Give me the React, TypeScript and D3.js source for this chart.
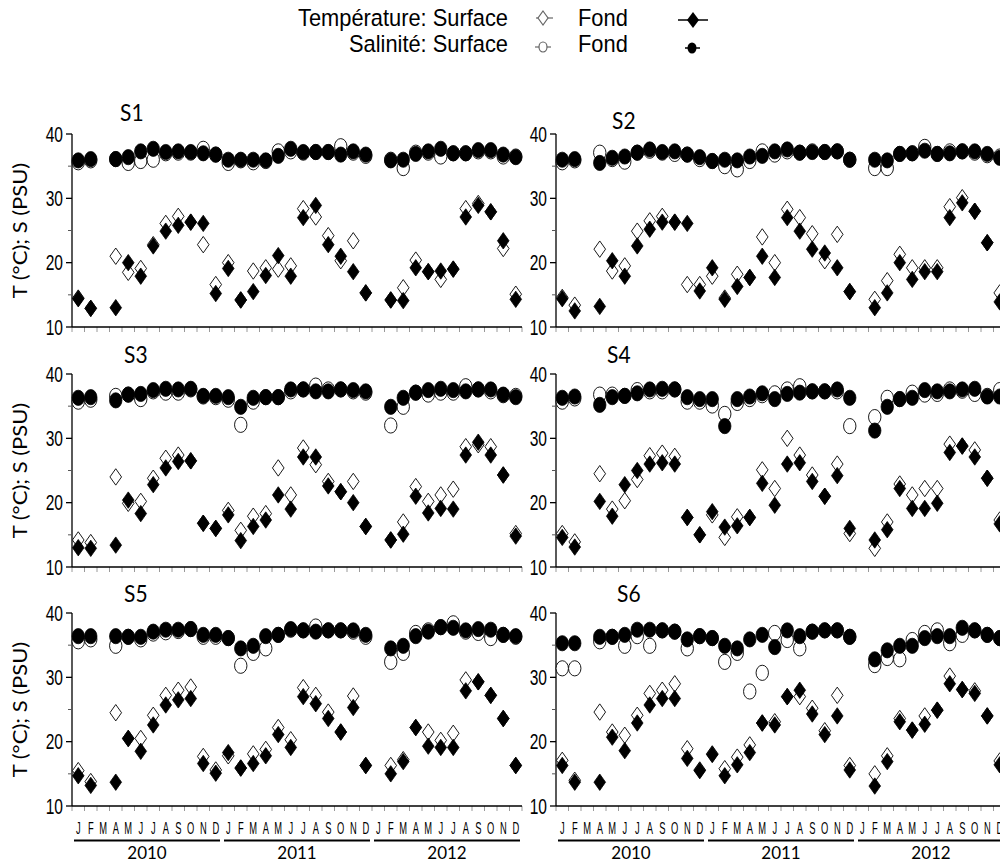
import React from 'react';
import * as d3 from 'd3';

const MONTHS = ['J', 'F', 'M', 'A', 'M', 'J', 'J', 'A', 'S', 'O', 'N', 'D'];
const YEARS = ['2010', '2011', '2012'];
const Y_TICKS = [10, 20, 30, 40];
const Y_MINOR = [15, 25, 35];
const STATIONS = ['S1', 'S2', 'S3', 'S4', 'S5', 'S6'];

const S1_TS = [14.5, 12.9, null, 21.0, 18.5, 19.1, 22.8, 26.1, 27.2, 26.3, 22.8, 16.6, 20.0, 14.2, 18.7, 19.2, 19.0, 19.5, 28.4, 27.1, 24.2, 20.3, 23.4, 15.3, null, 14.2, 16.1, 20.4, 18.6, 17.4, 19.0, 28.4, 29.2, 27.9, 22.2, 15.1];
const S1_TB = [14.4, 12.9, null, 13.0, 20.0, 17.9, 22.6, 24.9, 25.8, 26.3, 26.1, 15.2, 19.1, 14.2, 15.5, 18.0, 21.1, 17.9, 27.0, 28.9, 22.8, 21.0, 18.6, 15.3, null, 14.2, 14.1, 19.2, 18.6, 18.7, 19.0, 27.1, 28.9, 27.9, 23.4, 14.3];
const S1_SS = [35.6, 35.9, null, 36.1, 35.5, 35.8, 36.0, 37.0, 37.1, 37.1, 37.7, 36.8, 35.5, 35.9, 35.6, 35.8, 37.3, 37.3, 37.1, 37.2, 37.2, 38.1, 37.1, 36.6, null, 36.0, 34.7, 37.1, 37.1, 36.5, 37.0, 37.0, 37.3, 37.3, 36.5, 36.5];
const S1_SB = [35.9, 36.1, null, 36.1, 36.4, 37.3, 37.7, 37.2, 37.3, 37.2, 37.0, 36.8, 36.0, 36.0, 36.0, 35.9, 36.6, 37.7, 37.2, 37.2, 37.2, 36.8, 37.3, 36.8, null, 35.9, 36.0, 36.9, 37.3, 37.7, 37.0, 37.0, 37.5, 37.5, 36.8, 36.4];

const S2_TS = [14.6, 13.4, null, 22.1, 18.7, 19.5, 24.9, 26.5, 27.2, 26.3, 16.6, 16.6, 17.9, 14.5, 18.2, 17.7, 24.0, 20.0, 28.3, 27.0, 24.5, 20.3, 24.4, 15.5, null, 14.3, 17.2, 21.3, 19.2, 19.2, 19.2, 28.7, 30.1, 28.0, 23.1, 15.3];
const S2_TB = [14.4, 12.5, null, 13.2, 20.3, 17.9, 22.6, 25.2, 26.3, 26.3, 26.1, 15.6, 19.2, 14.3, 16.3, 17.7, 21.0, 17.7, 27.0, 24.9, 22.1, 21.5, 19.2, 15.5, null, 13.0, 15.3, 20.0, 17.4, 18.6, 18.6, 27.0, 29.3, 28.0, 23.1, 13.9];
const S2_SS = [35.6, 35.9, null, 37.1, 36.1, 35.7, 37.1, 37.4, 37.1, 36.9, 36.8, 36.1, 35.8, 35.0, 34.5, 35.8, 37.3, 36.8, 37.3, 37.1, 37.3, 37.2, 37.3, 36.0, null, 34.7, 34.7, 36.9, 37.0, 38.0, 36.9, 37.3, 37.3, 37.1, 36.7, 36.5];
const S2_SB = [36.0, 36.1, null, 35.5, 36.3, 36.5, 37.1, 37.6, 37.2, 37.3, 36.8, 36.4, 35.8, 36.0, 35.9, 36.5, 36.6, 37.3, 37.6, 37.1, 37.2, 37.2, 37.3, 36.0, null, 36.0, 35.9, 36.9, 37.0, 37.4, 36.9, 37.0, 37.3, 37.3, 36.9, 36.3];

const S3_TS = [14.2, 13.8, null, 24.0, 19.9, 20.2, 23.8, 26.9, 27.4, 26.5, 16.8, 16.0, 18.8, 15.7, 17.9, 18.3, 25.4, 21.2, 28.5, 25.9, 23.3, 21.7, 23.3, 16.3, null, 14.2, 17.0, 22.5, 20.2, 21.2, 22.1, 28.7, 29.0, 28.7, 24.3, 15.2];
const S3_TB = [13.0, 12.9, null, 13.4, 20.4, 18.3, 22.8, 25.4, 26.4, 26.5, 16.8, 16.0, 18.1, 14.1, 16.3, 17.3, 21.2, 19.0, 27.1, 27.1, 22.6, 21.7, 20.0, 16.3, null, 14.2, 15.1, 21.0, 18.4, 19.1, 19.0, 27.4, 29.4, 27.4, 24.3, 14.8];
const S3_SS = [35.7, 36.0, null, 36.6, 36.8, 36.1, 37.3, 37.1, 37.1, 37.6, 36.5, 36.4, 36.0, 32.1, 35.7, 36.4, 36.4, 37.3, 37.6, 38.2, 37.6, 37.6, 37.3, 37.1, null, 32.0, 34.9, 37.1, 36.8, 37.1, 37.1, 38.1, 37.6, 37.3, 36.7, 36.6];
const S3_SB = [36.3, 36.4, null, 35.9, 36.8, 36.9, 37.5, 37.7, 37.6, 37.7, 36.6, 36.6, 36.4, 34.9, 36.3, 36.4, 36.4, 37.6, 37.6, 37.3, 37.3, 37.6, 37.5, 37.3, null, 34.9, 36.3, 37.1, 37.5, 37.7, 37.5, 37.3, 37.6, 37.6, 36.8, 36.4];

const S4_TS = [15.2, 13.9, null, 24.5, 19.0, 20.3, 23.6, 27.3, 27.7, 27.2, 17.7, 15.0, 18.1, 14.6, 17.8, 17.7, 25.1, 22.2, 30.0, 27.4, 24.3, 21.0, 26.0, 15.2, null, 12.9, 17.0, 22.9, 21.2, 22.2, 22.2, 29.1, 28.8, 28.2, 23.8, 17.3];
const S4_TB = [14.6, 13.1, null, 20.2, 17.9, 22.8, 25.0, 26.0, 26.2, 26.0, 17.7, 15.0, 18.6, 16.2, 16.4, 17.7, 23.0, 19.6, 26.0, 26.2, 23.3, 21.0, 24.2, 16.0, null, 14.2, 15.8, 22.2, 19.1, 19.1, 19.9, 27.8, 28.8, 27.1, 23.8, 16.7];
const S4_SS = [35.7, 36.2, null, 36.8, 36.8, 36.6, 37.5, 37.3, 37.3, 37.6, 35.7, 35.7, 35.1, 33.8, 35.5, 36.1, 36.7, 37.0, 37.6, 38.1, 37.3, 37.3, 37.3, 31.9, null, 33.3, 36.3, 36.1, 37.1, 36.8, 36.9, 37.6, 37.4, 36.9, 36.6, 37.5];
const S4_SB = [36.3, 36.5, null, 35.2, 36.4, 36.6, 37.0, 37.6, 37.7, 37.6, 36.4, 36.1, 36.1, 31.9, 36.1, 36.5, 37.0, 36.1, 36.9, 37.1, 37.3, 37.3, 37.6, 36.3, null, 31.2, 34.9, 36.1, 36.3, 37.5, 37.3, 37.3, 37.6, 37.7, 36.5, 36.5];

const S5_TS = [15.5, 13.8, null, 24.5, 20.5, 20.5, 24.1, 27.2, 28.0, 28.5, 17.7, 15.6, 17.8, 15.9, 18.1, 18.8, 22.2, 20.3, 28.4, 27.2, 24.6, 21.5, 27.1, 16.3, null, 16.3, 17.2, 22.2, 21.5, 20.2, 21.3, 29.6, 29.3, 27.2, 23.6, 16.3];
const S5_TB = [14.7, 13.2, null, 13.7, 20.5, 18.5, 22.6, 25.7, 26.5, 26.7, 16.6, 15.1, 18.3, 15.9, 16.6, 17.8, 21.1, 19.1, 27.0, 25.9, 23.6, 21.5, 25.3, 16.3, null, 15.0, 16.9, 22.2, 19.3, 19.1, 19.1, 27.9, 29.3, 27.2, 23.6, 16.3];
const S5_SS = [35.6, 35.9, null, 34.9, 36.3, 35.9, 36.8, 37.0, 37.2, 37.5, 36.3, 36.3, 36.1, 31.8, 33.8, 34.5, 36.6, 37.4, 37.3, 37.9, 37.3, 37.3, 37.1, 36.3, null, 32.4, 33.8, 36.9, 37.3, 37.8, 38.4, 37.1, 36.9, 36.1, 36.6, 36.3];
const S5_SB = [36.4, 36.4, null, 36.4, 36.3, 36.3, 37.1, 37.4, 37.4, 37.5, 36.6, 36.6, 36.1, 34.5, 34.9, 36.4, 36.6, 37.5, 37.3, 37.1, 37.3, 37.3, 37.3, 36.6, null, 34.5, 34.9, 36.4, 37.1, 37.8, 37.7, 37.3, 37.5, 37.4, 36.6, 36.4];

const S6_TS = [17.1, 14.0, null, 24.6, 21.5, 21.0, 24.1, 27.5, 28.0, 29.0, 18.9, 15.6, 18.1, 15.8, 17.6, 19.5, 22.9, 23.1, 27.0, 27.0, 25.2, 21.7, 27.2, 16.3, null, 15.0, 17.8, 23.6, 21.8, 24.0, 24.9, 30.2, 28.1, 27.9, 24.0, 17.0];
const S6_TB = [16.3, 13.7, null, 13.7, 20.7, 18.6, 22.9, 25.7, 26.7, 26.7, 17.4, 15.5, 18.0, 14.7, 16.4, 18.3, 22.9, 22.6, 27.0, 28.0, 24.3, 21.1, 24.0, 15.6, null, 13.1, 16.9, 23.1, 21.8, 22.7, 24.9, 29.0, 28.1, 27.5, 24.0, 16.4];
const S6_SS = [31.4, 31.4, null, 35.6, 36.3, 34.9, 36.4, 34.9, 37.3, 37.1, 34.5, 36.4, 36.1, 32.4, 33.8, 27.8, 30.7, 36.9, 35.8, 34.5, 37.1, 37.3, 37.3, 36.3, null, 31.9, 33.0, 32.8, 35.8, 36.9, 37.3, 35.3, 36.6, 37.3, 36.6, 36.1];
const S6_SB = [35.3, 35.3, null, 36.3, 36.3, 36.6, 37.4, 37.4, 37.3, 37.1, 35.9, 36.4, 36.1, 34.9, 34.5, 35.9, 36.6, 34.7, 37.3, 36.4, 37.1, 37.3, 37.3, 36.3, null, 32.8, 34.2, 34.9, 34.9, 36.1, 36.4, 36.4, 37.7, 37.3, 36.6, 36.1];

const PANELS = [
  { name: STATIONS[0], ts: S1_TS, tb: S1_TB, ss: S1_SS, sb: S1_SB },
  { name: STATIONS[1], ts: S2_TS, tb: S2_TB, ss: S2_SS, sb: S2_SB },
  { name: STATIONS[2], ts: S3_TS, tb: S3_TB, ss: S3_SS, sb: S3_SB },
  { name: STATIONS[3], ts: S4_TS, tb: S4_TB, ss: S4_SS, sb: S4_SB },
  { name: STATIONS[4], ts: S5_TS, tb: S5_TB, ss: S5_SS, sb: S5_SB },
  { name: STATIONS[5], ts: S6_TS, tb: S6_TB, ss: S6_SS, sb: S6_SB },
];

const W = 1000;
const H = 863;
const COL_X = [72, 556];
const PW = 450;
const ROW_TOP = [134, 374, 613];
const PH = 193;
const TITLE_POS = [[120, 121], [612, 129], [124, 363], [607, 363], [124, 602], [617, 602]];
const SANS = '"Liberation Sans", Arial, sans-serif';
const CAL = 'Lato, "Open Sans", sans-serif';

const monthIdx = d3.range(36);
const diamond = (w: number, h: number) => `M0,${-h}L${w},0L0,${h}L${-w},0Z`;

function SText({ x, y, size, family, anchor = 'start', sx = 1, sy = 1, children }: any) {
  return (
    <text transform={`translate(${x},${y}) scale(${sx},${sy})`} fontSize={size} fontFamily={family}
      textAnchor={anchor} fill="#000">{children}</text>
  );
}

function Panel({ p, col, row }: any) {
  const x0 = COL_X[col];
  const top = ROW_TOP[row];
  const x = d3.scaleBand<number>().domain(monthIdx).range([x0, x0 + PW]).padding(0);
  const y = d3.scaleLinear().domain([10, 40]).range([top + PH, top]);
  const cx = (i: number) => (x(i) as number) + x.bandwidth() / 2;
  const pts = (arr: (number | null)[]) => arr.map((v, i) => ({ v, i })).filter((d) => d.v != null) as { v: number; i: number }[];
  const bottom = top + PH;
  const showMonths = row === 2;
  return (
    <g>
      {d3.range(37).map((k) => {
        const xx = x0 + k * x.bandwidth();
        return <line key={'xt' + k} x1={xx} x2={xx} y1={bottom} y2={bottom + 5} stroke="#9a9a9a" strokeWidth={1} />;
      })}
      <line x1={x0} x2={x0} y1={top} y2={bottom} stroke="#000" strokeWidth={1.3} />
      {Y_TICKS.map((t) => (
        <line key={'yt' + t} x1={x0 - 6} x2={x0} y1={y(t)} y2={y(t)} stroke="#000" strokeWidth={1.3} />
      ))}
      {Y_MINOR.map((t) => (
        <line key={'ym' + t} x1={x0 - 4} x2={x0} y1={y(t)} y2={y(t)} stroke="#555" strokeWidth={1} />
      ))}
      {Y_TICKS.map((t) => (
        <SText key={'yl' + t} x={x0 - 9} y={y(t) + 7.5} size={19} family={SANS} anchor="end" sx={0.82} sy={1.18}>{t}</SText>
      ))}
      <line x1={x0} x2={x0 + PW} y1={bottom} y2={bottom} stroke="#000" strokeWidth={1.5} />
      {pts(p.ts).map((d) => (
        <path key={'ts' + d.i} d={diamond(5.8, 8.2)} transform={`translate(${cx(d.i)},${y(d.v)})`} fill="#fff" stroke="#000" strokeWidth={0.9} />
      ))}
      {pts(p.tb).map((d) => (
        <path key={'tb' + d.i} d={diamond(5.8, 8.2)} transform={`translate(${cx(d.i)},${y(d.v)})`} fill="#000" stroke="#000" strokeWidth={0.8} />
      ))}
      {pts(p.ss).map((d) => (
        <ellipse key={'ss' + d.i} cx={cx(d.i)} cy={y(d.v)} rx={6.2} ry={7.6} fill="#fff" stroke="#000" strokeWidth={0.9} />
      ))}
      {pts(p.sb).map((d) => (
        <ellipse key={'sb' + d.i} cx={cx(d.i)} cy={y(d.v)} rx={6.2} ry={7.6} fill="#000" stroke="#000" strokeWidth={0.8} />
      ))}
      <SText x={TITLE_POS[row * 2 + col][0]} y={TITLE_POS[row * 2 + col][1]} size={21} family={CAL} sy={1.1}>{p.name}</SText>
      {col === 0 && (
        <text transform={`translate(27,${top + PH / 2}) rotate(-90) scale(1.1,1)`} fontSize={20} fontFamily={CAL} textAnchor="middle">T (°C); S (PSU)</text>
      )}
      {showMonths && monthIdx.map((i) => (
        <SText key={'m' + i} x={cx(i)} y={834} size={12} family={SANS} anchor="middle" sx={0.78} sy={1.35}>{MONTHS[i % 12]}</SText>
      ))}
      {showMonths && YEARS.map((yr, k) => {
        const a = x0 + k * 12 * x.bandwidth();
        const b = a + 12 * x.bandwidth();
        return (
          <g key={yr}>
            <line x1={a + 2} x2={b - 2} y1={840.5} y2={840.5} stroke="#000" strokeWidth={2.2} />
            <SText x={(a + b) / 2} y={859} size={17} family={CAL} anchor="middle" sy={1.05}>{yr}</SText>
          </g>
        );
      })}
    </g>
  );
}

function Legend() {
  const r1 = 18;
  const r2 = 44;
  return (
    <g>
      <SText x={508} y={r1 + 8} size={23} family={SANS} anchor="end" sx={0.95} sy={1.02}>Température: Surface</SText>
      <SText x={508} y={r2 + 8} size={23} family={SANS} anchor="end" sx={0.95} sy={1.02}>Salinité: Surface</SText>
      <SText x={578} y={r1 + 8} size={23} family={SANS} sx={0.95} sy={1.02}>Fond</SText>
      <SText x={578} y={r2 + 8} size={23} family={SANS} sx={0.95} sy={1.02}>Fond</SText>
      <line x1={536} x2={553} y1={r1} y2={r1} stroke="#666" strokeWidth={1.2} />
      <path d={diamond(5, 7)} transform={`translate(543,${r1})`} fill="#fff" stroke="#666" strokeWidth={1.2} />
      <line x1={678} x2={708} y1={r1 + 2} y2={r1 + 2} stroke="#000" strokeWidth={1.5} />
      <path d={diamond(6, 8)} transform={`translate(693,${r1 + 2})`} fill="#000" />
      <line x1={535} x2={551} y1={r2 + 3} y2={r2 + 3} stroke="#666" strokeWidth={1.2} />
      <ellipse cx={543} cy={r2 + 3} rx={4} ry={5} fill="#fff" stroke="#666" strokeWidth={1.2} />
      <line x1={685} x2={700} y1={r2 + 4} y2={r2 + 4} stroke="#000" strokeWidth={1.5} />
      <ellipse cx={692} cy={r2 + 4} rx={4.5} ry={5.5} fill="#000" />
    </g>
  );
}

export default function App() {
  return (
    <svg width={W} height={H} viewBox={`0 0 ${W} ${H}`} style={{ position: 'absolute', left: 0, top: 0, background: '#fff' }}>
      <rect x={0} y={0} width={W} height={H} fill="#fff" />
      <Legend />
      {PANELS.map((p, k) => (
        <Panel key={p.name} p={p} col={k % 2} row={Math.floor(k / 2)} />
      ))}
    </svg>
  );
}
